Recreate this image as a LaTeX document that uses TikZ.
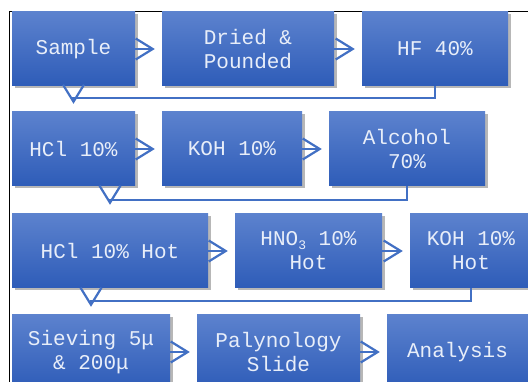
\documentclass[tikz,border=0pt]{standalone}
\usepackage{fontspec}
\newfontfamily\boxfont{Liberation Mono}
\usetikzlibrary{arrows.meta,shadows,calc}
\definecolor{boxtop}{RGB}{92,130,206}
\definecolor{boxbot}{RGB}{46,92,184}
\definecolor{conncol}{RGB}{66,112,196}
\definecolor{txtcol}{RGB}{232,238,249}
\tikzset{
  stage/.style={rectangle, top color=boxtop, bottom color=boxbot, draw=none,
    minimum height=74pt, inner sep=0pt, align=center, text=txtcol,
    font=\boxfont\fontsize{21}{24}\selectfont,
    drop shadow={shadow xshift=2.5pt, shadow yshift=-2.5pt, opacity=0.35, fill=black!80}},
  conn/.style={draw=conncol, line width=2.2pt,
    -{Straight Barb[length=17pt,width=21pt,line width=2.2pt]}},
  frame/.style={draw=black, line width=1.3pt}
}
\begin{document}
\begin{tikzpicture}[x=1pt,y=-1pt]
\useasboundingbox (0,0) rectangle (528,382);
\clip (0,0) rectangle (528,382);
\fill[white] (0,0) rectangle (528,382);
\draw[frame] (530,11.5) -- (9.5,11.5) -- (9.5,384);
% row 1
\node[stage, minimum width=123pt] (sample) at (73.5,49) {Sample};
\node[stage, minimum width=172pt] (dried) at (248,49) {Dried \&\\Pounded};
\node[stage, minimum width=146pt] (hf) at (435,49) {HF 40\%};
% row 2
\node[stage, minimum width=123pt] (hcl) at (73.5,149) {HCl 10\%};
\node[stage, minimum width=140pt] (koh) at (232,149) {KOH 10\%};
\node[stage, minimum width=156pt] (alc) at (407,149) {Alcohol\\70\%};
% row 3
\node[stage, minimum width=196pt] (hclhot) at (110,251) {HCl 10\% Hot};
\node[stage, minimum width=147pt] (hno) at (308.5,251) {HNO\raisebox{-0.35ex}{\fontsize{13}{13}\selectfont 3} 10\%\\Hot};
\node[stage, minimum width=122pt] (kohhot) at (471,251) {KOH 10\%\\Hot};
% row 4
\node[stage, minimum width=158pt] (siev) at (91,352) {Sieving 5μ\\\& 200μ};
\node[stage, minimum width=163pt] (paly) at (278.5,352) {Palynology\\Slide};
\node[stage, minimum width=141pt] (ana) at (457.5,352) {Analysis};
% horizontal connectors
\draw[conn, shorten >=7pt] (sample.east) -- (dried.west);
\draw[conn, shorten >=7pt] (dried.east) -- (hf.west);
\draw[conn, shorten >=7pt] (hcl.east) -- (koh.west);
\draw[conn, shorten >=7pt] (koh.east) -- (alc.west);
\draw[conn, shorten >=7pt] (hclhot.east) -- (hno.west);
\draw[conn, shorten >=7pt] (hno.east) -- (kohhot.west);
\draw[conn, shorten >=7pt] (siev.east) -- (paly.west);
\draw[conn, shorten >=7pt] (paly.east) -- (ana.west);
% row-to-row connectors
\draw[conn, shorten >=8pt] (hf.south) -- ++(0,12) -| (hcl.north);
\draw[conn, shorten >=9pt] (alc.south) -- ++(0,14) -| (hclhot.north);
\draw[conn, shorten >=8pt] (kohhot.south) -- ++(0,13) -| (siev.north);
\end{tikzpicture}
\end{document}
